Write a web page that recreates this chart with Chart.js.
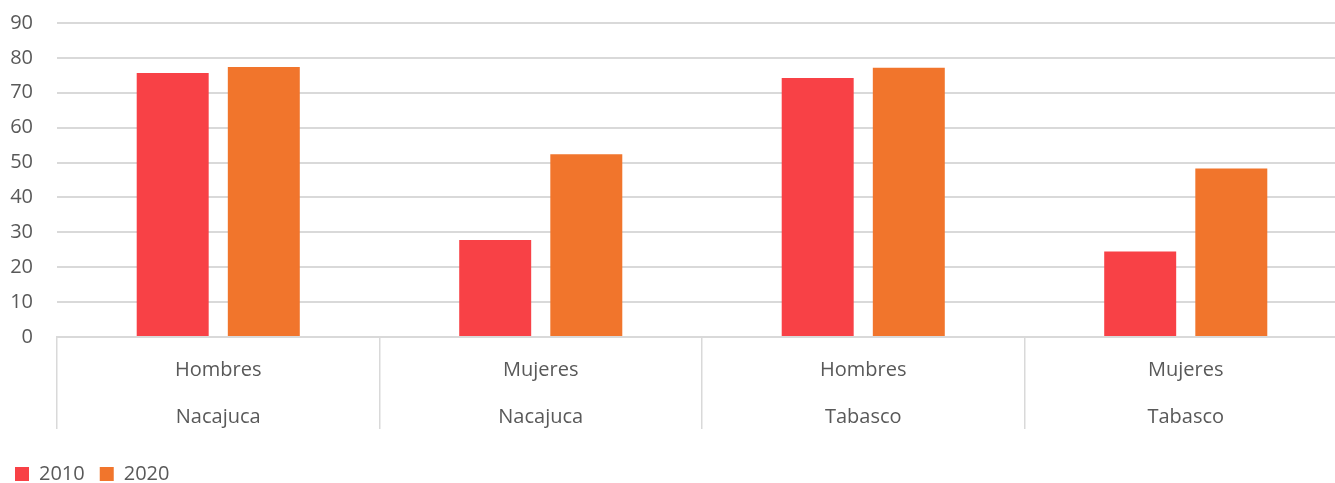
<!DOCTYPE html>
<html>
<head>
<meta charset="utf-8">
<script src="https://cdn.jsdelivr.net/npm/chart.js@4.4.0/dist/chart.umd.min.js"></script>
<style>
  html, body { margin: 0; padding: 0; background: #fff; overflow: hidden; }
  .wrap { position: relative; width: 1347px; height: 483px; }
</style>
</head>
<body>
<div class="wrap"><canvas id="poblacion"></canvas></div>
<script>
const sexos = ["Hombres", "Mujeres", "Hombres", "Mujeres"];
const lugares = ["Nacajuca", "Nacajuca", "Tabasco", "Tabasco"];
const valores2010 = [75.7, 27.8, 74.2, 24.5];
const valores2020 = [77.4, 52.4, 77.2, 48.3];
const yTicks = [0, 10, 20, 30, 40, 50, 60, 70, 80, 90];

const gris = "#d9d9d9";
const texto = "#595959";
const fuente = "'Open Sans', 'Noto Sans', sans-serif";

new Chart(document.getElementById("poblacion"), {
  type: "bar",
  data: {
    labels: sexos.map((s, i) => [s, lugares[i]]),
    datasets: [
      {
        label: "2010",
        data: valores2010,
        backgroundColor: "#F84146",
        categoryPercentage: 0.565,
        barPercentage: 0.79,
      },
      {
        label: "2020",
        data: valores2020,
        backgroundColor: "#F1752C",
        categoryPercentage: 0.565,
        barPercentage: 0.79,
      },
    ],
  },
  options: {
    responsive: true,
    maintainAspectRatio: false,
    animation: false,
    layout: { padding: { top: 23, left: 0, right: 0, bottom: -11 } },
    plugins: {
      tooltip: { enabled: false },
      legend: {
        position: "bottom",
        align: "start",
        labels: {
          boxWidth: 14,
          boxHeight: 14,
          padding: 15,
          color: texto,
          font: { family: fuente, size: 20 },
        },
      },
    },
    scales: {
      x: {
        grid: {
          offset: true,
          drawOnChartArea: false,
          drawTicks: true,
          tickLength: 92,
          color: gris,
          lineWidth: 1.5,
        },
        border: { display: true, color: gris, width: 2 },
        ticks: {
          color: texto,
          padding: -82,
          maxRotation: 0,
          font: { family: fuente, size: 20, lineHeight: 2.35 },
        },
        afterFit: (scale) => {
          scale.height = 112;
          scale.paddingLeft = 0;
          scale.paddingRight = 0;
        },
      },
      y: {
        min: 0,
        max: 90,
        afterBuildTicks: (scale) => { scale.ticks = yTicks.map((v) => ({ value: v })); },
        grid: { color: gris, lineWidth: 2, drawTicks: false },
        border: { display: false },
        ticks: {
          color: texto,
          padding: 24,
          font: { family: fuente, size: 20 },
        },
        afterFit: (scale) => {
          scale.width = 57;
          scale.paddingTop = 0;
          scale.paddingBottom = 0;
        },
      },
    },
  },
});
</script>
</body>
</html>
